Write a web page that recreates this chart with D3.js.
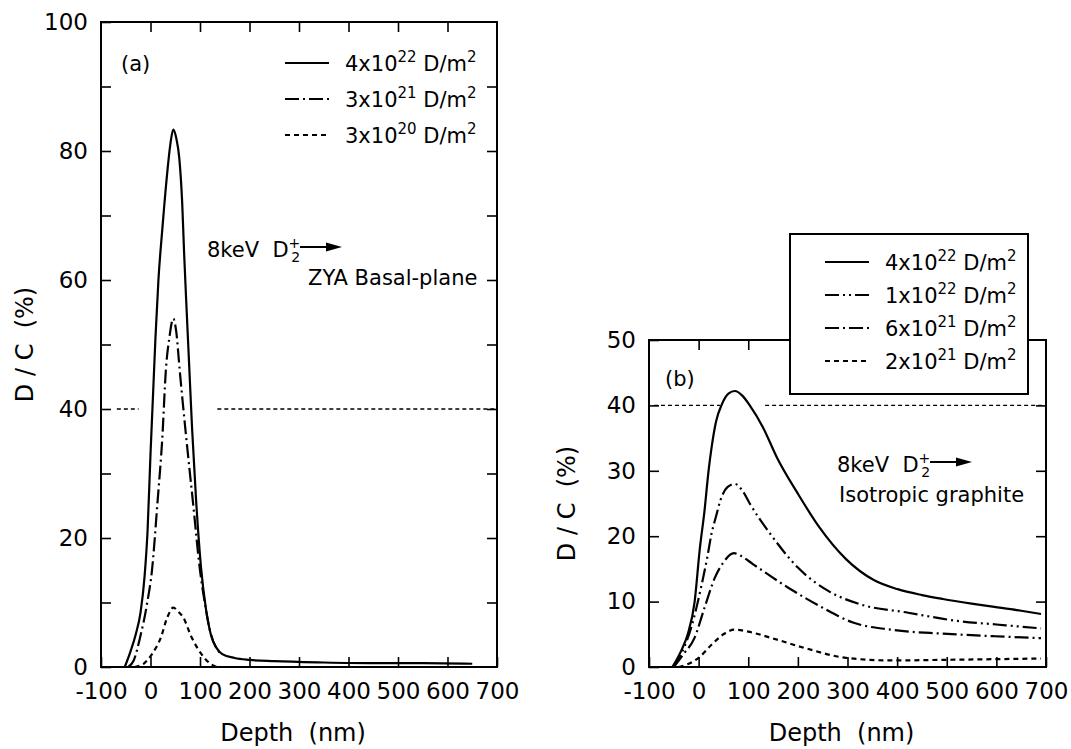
<!DOCTYPE html>
<html>
<head>
<meta charset="utf-8">
<script src="https://cdnjs.cloudflare.com/ajax/libs/d3/7.8.5/d3.min.js"></script>
<title>D/C depth profiles</title>
<style>
  body { margin: 0; background: #fff; }
  text { font-family: 'DejaVu Sans', sans-serif; fill: #000; }
</style>
</head>
<body>
<script type="text/javascript">

// ---- data (depth nm, D/C %) ----
var depthTicks = [-100, 0, 100, 200, 300, 400, 500, 600, 700];
var innerTicks = [0, 100, 200, 300, 400, 500, 600];

// panel (a) : ZYA basal plane
var mantA = ["4", "3", "3"];
var expA = ["22", "21", "20"];
var curveA1 = [[-52,0],[-40,2.5],[-30,5],[-20,8.5],[-12,14],[-6,21],[0,33],[5,42],[10,51],[16,60],[24,68],[33,76],[40,81],[46,83.3],[52,82],[58,79],[64,72],[68,64],[72,57],[78,47],[84,37],[92,26],[102,15.5],[112,9],[122,5],[133,3],[145,2],[170,1.4],[200,1.1],[250,0.9],[350,0.7],[450,0.6],[550,0.6],[650,0.5]];
var curveA2 = [[-45,0],[-34,1],[-21,4.6],[-7,9.8],[3,15],[14,25.4],[24,35.7],[31,46],[38,51],[46,54],[52,52],[59,46],[72,35.7],[86,25.4],[100,15],[110,9.8],[122,5.1],[134,2.8],[145,2]];
var curveA3 = [[-32,0],[-14,0.5],[3,2],[21,4.6],[34,7.7],[46,9.2],[56,8.6],[66,7.7],[83,4.6],[103,2],[121,0.5],[134,0]];
var refA = [[-68,-24],[135,700]];

// panel (b) : isotropic graphite
var mantB = ["4", "1", "6", "2"];
var expB = ["22", "22", "21", "21"];
var curveB1 = [[-53,0],[-35,2.5],[-22,5],[-8,10],[2,17.8],[12,24],[20,30],[26,33.5],[35,37.5],[47,40.2],[60,41.8],[73,42.2],[88,41.5],[103,40],[130,36.6],[158,32],[200,26.5],[242,21.5],[297,16.5],[353,13.3],[401,11.9],[450,11],[492,10.4],[550,9.7],[596,9.2],[650,8.6],[690,8.1]];
var curveB2 = [[-50,0],[-35,2],[-15,6],[5,12.2],[18,17],[26,20.4],[35,23],[44,25.5],[58,27.5],[73,28],[88,27],[103,25],[144,20.4],[200,15.2],[262,11.6],[325,9.6],[422,8.3],[526,7],[600,6.5],[690,5.9]];
var curveB3 = [[-50,0],[-30,2],[-8,4.5],[12,9.1],[33,13.7],[50,16],[71,17.4],[85,17],[110,15.7],[179,12.2],[249,9.1],[311,6.8],[388,5.7],[492,5.1],[596,4.7],[690,4.4]];
var curveB4 = [[-40,0],[-20,0.5],[0,1.4],[26,3.4],[50,5],[72,5.7],[100,5.4],[144,4.5],[214,2.9],[297,1.4],[388,1.0],[500,1.1],[600,1.2],[690,1.3]];
var refB = [[-90,43],[134,700]];

// line styles
var solid = "none", dashDot = "14,4,2,4", dashDotDot = "14,4,2,4,2,4", dashed = "5,4";

var w = 1071;
var h = 749;

var svg = d3.select("body")
  .append("svg")
  .attr("width", w)
  .attr("height", h);

function drawPanel(p) {
  var x = d3.scaleLinear().domain([-100, 700]).range([p.left, p.right]);
  var y = d3.scaleLinear().domain([0, p.ymax]).range([p.bottom, p.top]);
  var g = svg.append("g");

  function styleAxis(a) {
    a.select(".domain").remove();
    a.selectAll(".tick line").attr("stroke-width", 1.6);
    a.selectAll("text").attr("font-size", 23).attr("font-family", null);
  }

  g.append("g").attr("transform", "translate(0," + p.bottom + ")")
    .call(d3.axisBottom(x).tickValues(depthTicks).tickSize(-10).tickPadding(16).tickFormat(function(d) { return String(d); }))
    .call(styleAxis);
  g.append("g").attr("transform", "translate(0," + p.top + ")")
    .call(d3.axisTop(x).tickValues(innerTicks).tickSize(-10).tickFormat(""))
    .call(styleAxis);
  g.append("g").attr("transform", "translate(" + p.left + ",0)")
    .call(d3.axisLeft(y).tickValues(d3.range(0, p.ymax + 1, 10)).tickSize(-10).tickPadding(13)
      .tickFormat(function(d) { return d % p.labelStep === 0 ? d : ""; }))
    .call(styleAxis);
  g.append("g").attr("transform", "translate(" + p.right + ",0)")
    .call(d3.axisRight(y).tickValues(d3.range(10, p.ymax, 10)).tickSize(-10).tickFormat(""))
    .call(styleAxis);

  g.append("rect")
    .attr("x", p.left).attr("y", p.top)
    .attr("width", p.right - p.left).attr("height", p.bottom - p.top)
    .attr("fill", "none").attr("stroke", "#000").attr("stroke-width", 2);

  // 40 % reference line
  g.selectAll(".ref").data(p.ref).enter().append("line")
    .attr("x1", function(d) { return x(d[0]); })
    .attr("x2", function(d) { return x(d[1]); })
    .attr("y1", y(40)).attr("y2", y(40))
    .attr("stroke", "#000").attr("stroke-width", 1.3).attr("stroke-dasharray", "4,3");

  var line = d3.line()
    .x(function(d) { return x(d[0]); })
    .y(function(d) { return y(d[1]); })
    .curve(d3.curveMonotoneX);

  g.selectAll(".curve").data(p.curves).enter().append("path")
    .attr("d", function(d) { return line(d); })
    .attr("fill", "none").attr("stroke", "#000").attr("stroke-width", 2.2)
    .attr("stroke-dasharray", function(d, i) { return p.dashes[i]; });

  // axis titles
  g.append("text")
    .attr("x", (p.left + p.right) / 2 - 6).attr("y", 741)
    .attr("text-anchor", "middle").attr("font-size", 24)
    .style("white-space", "pre")
    .text("Depth  (nm)");
  g.append("text")
    .attr("transform", "translate(" + p.ylabelX + "," + (p.top + p.bottom) / 2 + ") rotate(-90)")
    .attr("text-anchor", "middle").attr("font-size", 24)
    .style("white-space", "pre")
    .text("D / C  (%)");

  // panel tag
  g.append("text").attr("x", p.tagX).attr("y", p.tagY).attr("font-size", 21).text(p.tag);

  // legend
  if (p.box) {
    g.append("rect")
      .attr("x", p.box[0]).attr("y", p.box[1]).attr("width", p.box[2]).attr("height", p.box[3])
      .attr("fill", "#fff").attr("stroke", "#000").attr("stroke-width", 2);
  }
  var leg = g.selectAll(".leg").data(p.mant).enter().append("g")
    .attr("transform", function(d, i) { return "translate(" + p.legX + "," + (p.legY + i * p.legStep) + ")"; });
  leg.append("line")
    .attr("x1", 0).attr("x2", 44).attr("y1", 0).attr("y2", 0)
    .attr("stroke", "#000").attr("stroke-width", 2)
    .attr("stroke-dasharray", function(d, i) { return p.dashes[i]; });
  var lt = leg.append("text").attr("x", 60).attr("y", 8).attr("font-size", 21);
  lt.append("tspan").text(function(d) { return d + "x10"; });
  lt.append("tspan").attr("font-size", 15).attr("dy", -9).text(function(d, i) { return p.exp[i]; });
  lt.append("tspan").attr("dy", 9).style("white-space", "pre").text(" D/m");
  lt.append("tspan").attr("font-size", 15).attr("dy", -9).text("2");

  // beam annotation
  var an = g.append("text").attr("x", p.noteX).attr("y", p.noteY).attr("font-size", 21);
  an.append("tspan").style("white-space", "pre").text("8keV  D");
  an.append("tspan").attr("font-size", 14).attr("dy", -9).text("+");
  an.append("tspan").attr("font-size", 14).attr("dx", -9).attr("dy", 14).text("2");
  var ax0 = p.noteX + 93, ay = p.noteY - 10;
  g.append("line").attr("x1", ax0).attr("x2", ax0 + 30).attr("y1", ay).attr("y2", ay)
    .attr("stroke", "#000").attr("stroke-width", 2);
  g.append("path")
    .attr("d", "M" + (ax0 + 26) + "," + (ay - 4.5) + " L" + (ax0 + 42) + "," + ay + " L" + (ax0 + 26) + "," + (ay + 4.5) + " Z")
    .attr("fill", "#000");
  g.append("text").attr("x", p.note2X).attr("y", p.note2Y).attr("font-size", 21).text(p.note2);
}

drawPanel({
  left: 101, right: 497, top: 22, bottom: 667, ymax: 100, labelStep: 20,
  curves: [curveA1, curveA2, curveA3], dashes: [solid, dashDot, dashed], ref: refA,
  ylabelX: 33, tag: "(a)", tagX: 121, tagY: 71,
  mant: mantA, exp: expA, legX: 285, legY: 63, legStep: 36, box: null,
  noteX: 207, noteY: 257, note2: "ZYA Basal-plane", note2X: 308, note2Y: 285
});

drawPanel({
  left: 649, right: 1046, top: 340, bottom: 667, ymax: 50, labelStep: 10,
  curves: [curveB1, curveB2, curveB3, curveB4], dashes: [solid, dashDotDot, dashDot, dashed], ref: refB,
  ylabelX: 575, tag: "(b)", tagX: 665, tagY: 386,
  mant: mantB, exp: expB, legX: 825, legY: 262, legStep: 33, box: [790, 234, 238, 160],
  noteX: 837, noteY: 472, note2: "Isotropic graphite", note2X: 839, note2Y: 502
});

</script>
</body>
</html>
